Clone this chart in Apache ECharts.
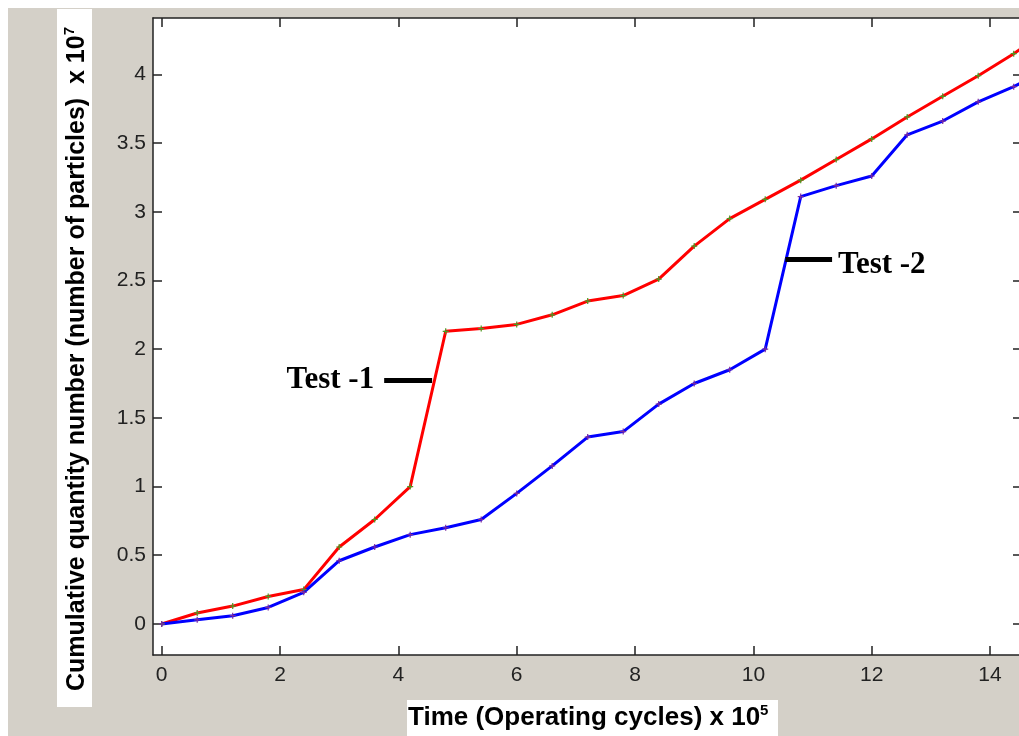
<!DOCTYPE html>
<html>
<head>
<meta charset="utf-8">
<script src="https://cdn.jsdelivr.net/npm/echarts@6/dist/echarts.min.js"></script>
<style>
    html, body { margin: 0; padding: 0; background: #ffffff; overflow: hidden; }
    #chart { position: absolute; left: 8px; top: 8px; width: 1014px; height: 728px; background: #d4d0c8; }
</style>
</head>
<body>
<div id="chart"></div>
<script>
    // time in units of 10^5 cycles
    var cycles = [0, 0.6, 1.2, 1.8, 2.4, 3.0, 3.6, 4.2, 4.8, 5.4, 6.0, 6.6, 7.2,
        7.8, 8.4, 9.0, 9.6, 10.2, 10.8, 11.4, 12.0, 12.6, 13.2, 13.8, 14.4, 15.0];
    // cumulative particles in units of 10^7
    var test1 = [0, 0.08, 0.13, 0.2, 0.25, 0.56, 0.76, 1.0, 2.13, 2.15, 2.18, 2.25, 2.35,
        2.39, 2.51, 2.75, 2.95, 3.09, 3.23, 3.38, 3.53, 3.69, 3.84, 3.99, 4.15, 4.33];
    var test2 = [0, 0.03, 0.06, 0.12, 0.23, 0.46, 0.56, 0.65, 0.7, 0.76, 0.95, 1.15, 1.36,
        1.4, 1.6, 1.75, 1.85, 2.0, 3.11, 3.19, 3.26, 3.56, 3.66, 3.8, 3.91, 4.04];
    var xTicks = [0, 2, 4, 6, 8, 10, 12, 14];
    var yTicks = [0, 0.5, 1, 1.5, 2, 2.5, 3, 3.5, 4];

    var pair = function(xs, ys){
        return xs.map(function(x, i){ return [x, ys[i]]; });
    };

    var plus = 'path://M4,0h2v4h4v2h-4v4h-2v-4h-4v-2h4z';
    var axisFont = {fontFamily: 'Liberation Sans', fontSize: 21, color: '#222'};
    var noteFont = {fontFamily: 'Liberation Serif', fontWeight: 'bold', fontSize: 31, color: '#000'};
    var titleRich = {
        a: {fontFamily: 'Liberation Sans', fontWeight: 'bold', fontSize: 25, fill: '#000', lineHeight: 30},
        s: {fontFamily: 'Liberation Sans', fontWeight: 'bold', fontSize: 15, fill: '#000', verticalAlign: 'top', lineHeight: 30}
    };
    var xTitleRich = {
        a: {fontFamily: 'Liberation Sans', fontWeight: 'bold', fontSize: 26, fill: '#000', lineHeight: 30},
        s: {fontFamily: 'Liberation Sans', fontWeight: 'bold', fontSize: 15, fill: '#000', verticalAlign: 'top', lineHeight: 30}
    };

    var makeX = function(pos, labels){
        return {
            type: 'value', position: pos, min: -0.147, max: 14.54,
            splitLine: {show: false},
            axisLine: {onZero: false, lineStyle: {color: '#222', width: 1.5}},
            axisTick: {inside: true, length: 9, customValues: xTicks, lineStyle: {color: '#222', width: 1.5}},
            axisLabel: {show: labels, customValues: xTicks, margin: 10,
                fontFamily: axisFont.fontFamily, fontSize: axisFont.fontSize, color: axisFont.color}
        };
    };
    var makeY = function(pos, labels){
        return {
            type: 'value', position: pos, min: -0.226, max: 4.41,
            splitLine: {show: false},
            axisLine: {onZero: false, lineStyle: {color: '#222', width: 1.5}},
            axisTick: {inside: true, length: 9, customValues: yTicks, lineStyle: {color: '#222', width: 1.5}},
            axisLabel: {show: labels, customValues: yTicks, margin: 7,
                fontFamily: axisFont.fontFamily, fontSize: axisFont.fontSize, color: axisFont.color}
        };
    };

    var chartOption = {
        animation: false,
        grid: {left: 145, top: 10, right: 0, bottom: 81, backgroundColor: '#ffffff', show: true, borderWidth: 0},
        xAxis: [makeX('bottom', true), makeX('top', false)],
        yAxis: [makeY('left', true), makeY('right', false)],
        graphic: [
            {type: 'rect', shape: {x: 49, y: 1, width: 35, height: 698}, style: {fill: '#fff'}},
            {type: 'text', x: 69, y: 351, rotation: Math.PI / 2,
                style: {
                    text: '{a|Cumulative quantity number (number of particles)  x 10}{s|7}',
                    align: 'center', verticalAlign: 'middle',
                    rich: titleRich
                }},
            {type: 'rect', shape: {x: 399, y: 692, width: 371, height: 36}, style: {fill: '#fff'}},
            {type: 'text', x: 400, y: 710,
                style: {
                    text: '{a|Time (Operating cycles) x 10}{s|5}',
                    align: 'left', verticalAlign: 'middle',
                    rich: xTitleRich
                }}
        ],
        series: [
            {
                name: 'Test -1',
                type: 'line',
                data: pair(cycles, test1),
                symbol: plus,
                symbolSize: 6,
                lineStyle: {color: '#ff0000', width: 3},
                itemStyle: {color: '#4c9a22'},
                markLine: {
                    silent: true,
                    symbol: ['none', 'none'],
                    lineStyle: {color: '#000', width: 5, type: 'solid'},
                    label: {show: true, position: 'start', distance: 10, formatter: 'Test -1',
                        fontFamily: noteFont.fontFamily, fontWeight: noteFont.fontWeight,
                        fontSize: noteFont.fontSize, color: noteFont.color},
                    data: [[{coord: [3.76, 1.776]}, {coord: [4.57, 1.776]}]]
                }
            },
            {
                name: 'Test -2',
                type: 'line',
                data: pair(cycles, test2),
                symbol: plus,
                symbolSize: 6,
                lineStyle: {color: '#0000ff', width: 3},
                itemStyle: {color: '#7a2aa0'},
                markLine: {
                    silent: true,
                    symbol: ['none', 'none'],
                    lineStyle: {color: '#000', width: 5, type: 'solid'},
                    label: {show: false},
                    data: [[{coord: [10.54, 2.656]}, {coord: [11.33, 2.656]}]]
                },
                markPoint: {
                    silent: true,
                    symbol: 'circle',
                    symbolSize: 0,
                    label: {show: true, position: 'right', distance: 6, offset: [0, 6], formatter: 'Test -2',
                        fontFamily: noteFont.fontFamily, fontWeight: noteFont.fontWeight,
                        fontSize: noteFont.fontSize, color: noteFont.color},
                    data: [{coord: [11.33, 2.656]}]
                }
            }
        ]
    };

    var myChart = echarts.init(document.getElementById('chart'));
    myChart.setOption(chartOption);
</script>
</body>
</html>
